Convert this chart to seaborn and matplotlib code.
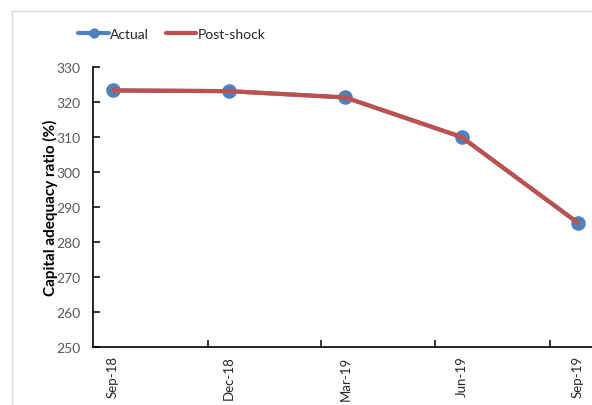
import matplotlib
matplotlib.use("Agg")
import matplotlib.pyplot as plt
from matplotlib.patches import Rectangle
import pandas as pd
import seaborn as sns

quarters = ["Sep-18", "Dec-18", "Mar-19", "Jun-19", "Sep-19"]
actual = [323.3, 323.1, 321.3, 310.0, 285.5]
post_shock = [323.3, 323.1, 321.3, 310.0, 285.5]
y_ticks = [250, 260, 270, 280, 290, 300, 310, 320, 330]

df = pd.DataFrame({"Quarter": quarters, "Actual": actual, "Post-shock": post_shock})

sns.set_theme(style="white")
plt.rcParams["font.family"] = ["Lato", "DejaVu Sans"]

W, H = 592, 406
fig = plt.figure(figsize=(W / 100, H / 100), dpi=100)
fig.patch.set_facecolor("white")

# chart-area border (light grey), running off the right and bottom edges
fig.patches.append(Rectangle((12 / W, -0.2), 2.0, 1.2 - 12 / H,
                             transform=fig.transFigure, fill=False,
                             edgecolor="#d9d9d9", linewidth=1.0, clip_on=False))

x_left, x_right = -0.17, 4.35
px_per_unit = 116.25
ax_w = (x_right - x_left) * px_per_unit
ax = fig.add_axes([93 / W, (H - 348) / H, ax_w / W, (348 - 68) / H])
ax.set_facecolor("none")

sns.lineplot(data=df, x="Quarter", y="Actual", ax=ax, color="#4F81BD",
             linewidth=2.4, marker="o", markersize=10.5, markeredgewidth=0,
             label="Actual", sort=False)
sns.lineplot(data=df, x="Quarter", y="Post-shock", ax=ax, color="#C0504D",
             linewidth=3, label="Post-shock", sort=False)

ax.set_xlim(x_left, x_right)
ax.set_ylim(250, 330)
ax.set_yticks(y_ticks)
ax.set_xticks(range(len(quarters)))
ax.set_xticklabels(quarters, rotation=90)
ax.set_xticks([0.815, 1.79, 2.775, 3.76], minor=True)

for side in ("top", "right"):
    ax.spines[side].set_visible(False)
for side in ("left", "bottom"):
    ax.spines[side].set_color("black")
    ax.spines[side].set_linewidth(1.2)

ax.tick_params(axis="y", which="major", direction="in", length=5, width=1.1,
               color="black", left=True, labelsize=10, labelcolor="#595959", pad=9)
ax.tick_params(axis="x", which="major", length=0, labelsize=9.5,
               labelcolor="#262626", pad=6)
ax.tick_params(axis="x", which="minor", direction="in", length=5, width=1.1,
               color="black", bottom=True)

ax.set_xlabel("")
ax.set_ylabel("Capital adequacy ratio (%)", fontsize=11, fontweight="bold",
              color="black", labelpad=-1)

handles, labels = ax.get_legend_handles_labels()
for h in handles:
    h.set_linewidth(3)
ax.legend(handles, labels, loc="center", bbox_to_anchor=(172 / W, 1 - 35 / H),
          bbox_transform=fig.transFigure, ncol=2, frameon=False, fontsize=10,
          handlelength=2.2, handletextpad=0.1, columnspacing=1.2, markerscale=0.7)

fig.savefig("out.png", dpi=100)
